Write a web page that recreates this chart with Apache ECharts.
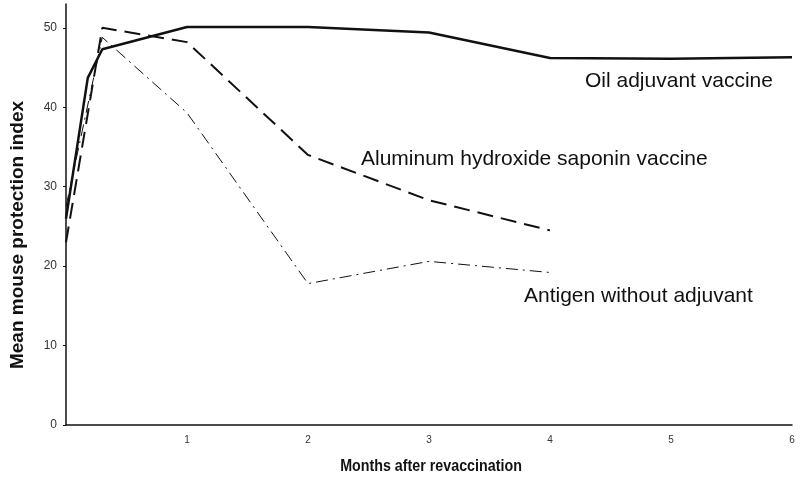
<!DOCTYPE html>
<html>
<head>
<meta charset="utf-8">
<script src="https://cdn.jsdelivr.net/npm/echarts@6/dist/echarts.min.js"></script>
<style>
  html, body { margin: 0; padding: 0; background: #fff; }
  #chart { width: 804px; height: 481px; }
</style>
</head>
<body>
<div id="chart"></div>
<script>
// months after revaccination for each curve
const oilMonths = [0, 0.18, 0.3, 1, 2, 3, 4, 5, 6]
const oilValues = [26, 43.7, 47.3, 50.1, 50.1, 49.4, 46.2, 46.1, 46.3]

const alumMonths = [0, 0.3, 1, 2, 3, 4]
const alumValues = [23, 50, 48.2, 34, 28.3, 24.5]

const antigenMonths = [0, 0.3, 1, 2, 3, 4]
const antigenValues = [27.5, 48.8, 39.3, 17.8, 20.6, 19.2]

const yTicks = [0, 10, 20, 30, 40, 50]
const xTicks = [0, 1, 2, 3, 4, 5, 6]

const pairs = (xs, ys) => xs.map((x, i) => [x, ys[i]])

const chart = echarts.init(document.getElementById('chart'))
const ink = '#111'
const labelFont = '21px "Liberation Sans"'

chart.setOption({
  backgroundColor: '#fff',
  animation: false,
  grid: { left: 66, right: 12, top: 4, bottom: 56 },
  xAxis: {
    type: 'value',
    min: 0,
    max: 6,
    interval: 1,
    axisLine: { lineStyle: { color: ink, width: 1.5 } },
    axisTick: { show: false },
    splitLine: { show: false },
    axisLabel: {
      color: '#333',
      fontSize: 10,
      margin: 10,
      customValues: xTicks,
      formatter: v => (v === 0 ? '' : String(v))
    }
  },
  yAxis: {
    type: 'value',
    min: 0,
    max: 53,
    axisLine: { show: true, lineStyle: { color: ink, width: 1.5 } },
    axisTick: { show: true, length: 3, customValues: yTicks, lineStyle: { color: ink } },
    splitLine: { show: false },
    axisLabel: { color: '#333', fontSize: 12, margin: 9, customValues: yTicks }
  },
  series: [
    {
      name: 'Oil adjuvant vaccine',
      type: 'line',
      symbol: 'none',
      lineStyle: { color: ink, width: 2.5 },
      data: pairs(oilMonths, oilValues)
    },
    {
      name: 'Aluminum hydroxide saponin vaccine',
      type: 'line',
      symbol: 'none',
      lineStyle: { color: ink, width: 2, type: [16, 8] },
      data: pairs(alumMonths, alumValues)
    },
    {
      name: 'Antigen without adjuvant',
      type: 'line',
      symbol: 'none',
      lineStyle: { color: ink, width: 1, type: [12, 5, 2, 5] },
      data: pairs(antigenMonths, antigenValues)
    }
  ],
  graphic: [
    // axis titles placed by hand like the printed figure (x title is a condensed face)
    {
      type: 'text', x: 18, y: 235, rotation: Math.PI / 2,
      style: { text: 'Mean mouse protection index', font: 'bold 19px "Liberation Sans"', fill: ink, align: 'center', verticalAlign: 'middle' }
    },
    {
      type: 'text', x: 431, y: 466, scaleX: 0.84,
      style: { text: 'Months after revaccination', font: 'bold 17px "Liberation Sans"', fill: ink, align: 'center', verticalAlign: 'middle' }
    },
    { type: 'text', left: 585, top: 71, style: { text: 'Oil adjuvant vaccine', font: labelFont, fill: ink } },
    { type: 'text', left: 361, top: 149, style: { text: 'Aluminum hydroxide saponin vaccine', font: labelFont, fill: ink } },
    { type: 'text', left: 524, top: 286, style: { text: 'Antigen without adjuvant', font: labelFont, fill: ink } }
  ]
})
</script>
</body>
</html>
